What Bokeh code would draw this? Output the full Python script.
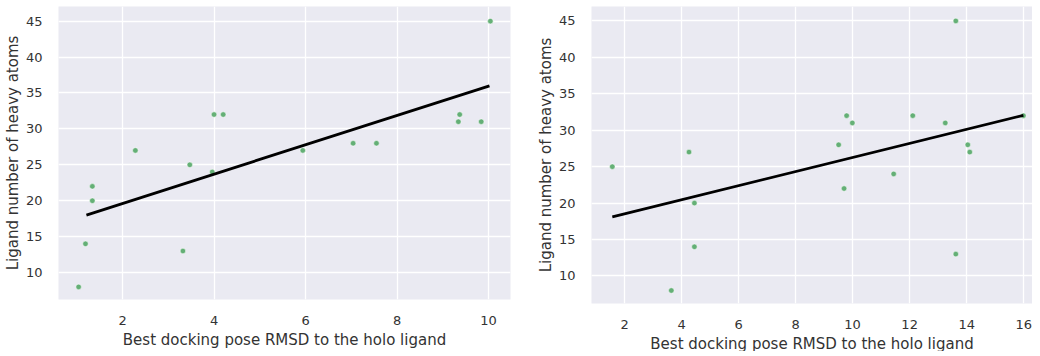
from bokeh.plotting import figure
from bokeh.layouts import row
from bokeh.models import FixedTicker
from bokeh.embed import file_html
from bokeh.resources import INLINE

# Left panel data
left_rmsd = [1.04, 1.19, 1.34, 1.34, 2.28, 3.32, 3.47, 3.96, 4.00, 4.20,
             5.94, 7.04, 7.55, 9.34, 9.37, 9.84, 10.04]
left_atoms = [8, 14, 22, 20, 27, 13, 25, 24, 32, 32, 27, 28, 28, 31, 32, 31, 45]
left_fit_x = [1.21, 10.02]
left_fit_y = [18.0, 36.0]

# Right panel data
right_rmsd = [1.57, 3.64, 4.26, 4.45, 4.45, 9.51, 9.70, 9.79, 9.99, 11.44,
              12.11, 13.25, 13.62, 13.62, 14.04, 14.11, 15.99]
right_atoms = [25, 8, 27, 20, 14, 28, 22, 32, 31, 24, 32, 31, 45, 13, 28, 27, 32]
right_fit_x = [1.57, 15.99]
right_fit_y = [18.1, 32.05]

x_ticks_left = [2, 4, 6, 8, 10]
x_ticks_right = [2, 4, 6, 8, 10, 12, 14, 16]
y_ticks = [10, 15, 20, 25, 30, 35, 40, 45]

X_LABEL = "Best docking pose RMSD to the holo ligand"
Y_LABEL = "Ligand number of heavy atoms"
BG = "#EAEAF2"
TXT = "#333333"
PT = "#55A868"
FONT = "DejaVu Sans"


def make(xs, ys, fx, fy, xr, yr, xt, fw, fh, bl, br, bt, bb):
    p = figure(frame_width=fw, frame_height=fh, x_range=xr, y_range=yr,
               output_backend="svg", toolbar_location=None,
               min_border_left=bl, min_border_right=br,
               min_border_top=bt, min_border_bottom=bb)
    p.background_fill_color = BG
    p.border_fill_color = "white"
    p.outline_line_color = None
    for ax in (p.xaxis, p.yaxis):
        ax.axis_line_color = None
        ax.major_tick_line_color = None
        ax.minor_tick_line_color = None
        ax.major_label_text_font = FONT
        ax.major_label_text_font_size = "13px"
        ax.major_label_text_color = TXT
        ax.axis_label_text_font = FONT
        ax.axis_label_text_font_size = "15px"
        ax.axis_label_text_font_style = "normal"
        ax.axis_label_text_color = TXT
        ax.major_label_standoff = 10
    p.xaxis.ticker = FixedTicker(ticks=xt)
    p.yaxis.ticker = FixedTicker(ticks=y_ticks)
    p.xaxis.axis_label = X_LABEL
    p.yaxis.axis_label = Y_LABEL
    p.xaxis.axis_label_standoff = 3
    p.yaxis.axis_label_standoff = 1
    p.xgrid.grid_line_color = "white"
    p.ygrid.grid_line_color = "white"
    p.xgrid.grid_line_width = 1.3
    p.ygrid.grid_line_width = 1.3
    p.scatter(xs, ys, size=5.5, fill_color=PT, line_color="white",
              line_width=0.5, fill_alpha=0.9)
    p.line(fx, fy, line_color="black", line_width=2.8)
    return p


p1 = make(left_rmsd, left_atoms, left_fit_x, left_fit_y, (0.6, 10.48), (6.25, 47.04),
          x_ticks_left, 452, 293, 50, 10, 6, 41)
p2 = make(right_rmsd, right_atoms, right_fit_x, right_fit_y, (0.84, 16.31), (6.22, 46.98),
          x_ticks_right, 441, 297, 71, 0, 2, 41)

layout = row(p1, p2)
open("out.html", "w").write(file_html(layout, INLINE))
